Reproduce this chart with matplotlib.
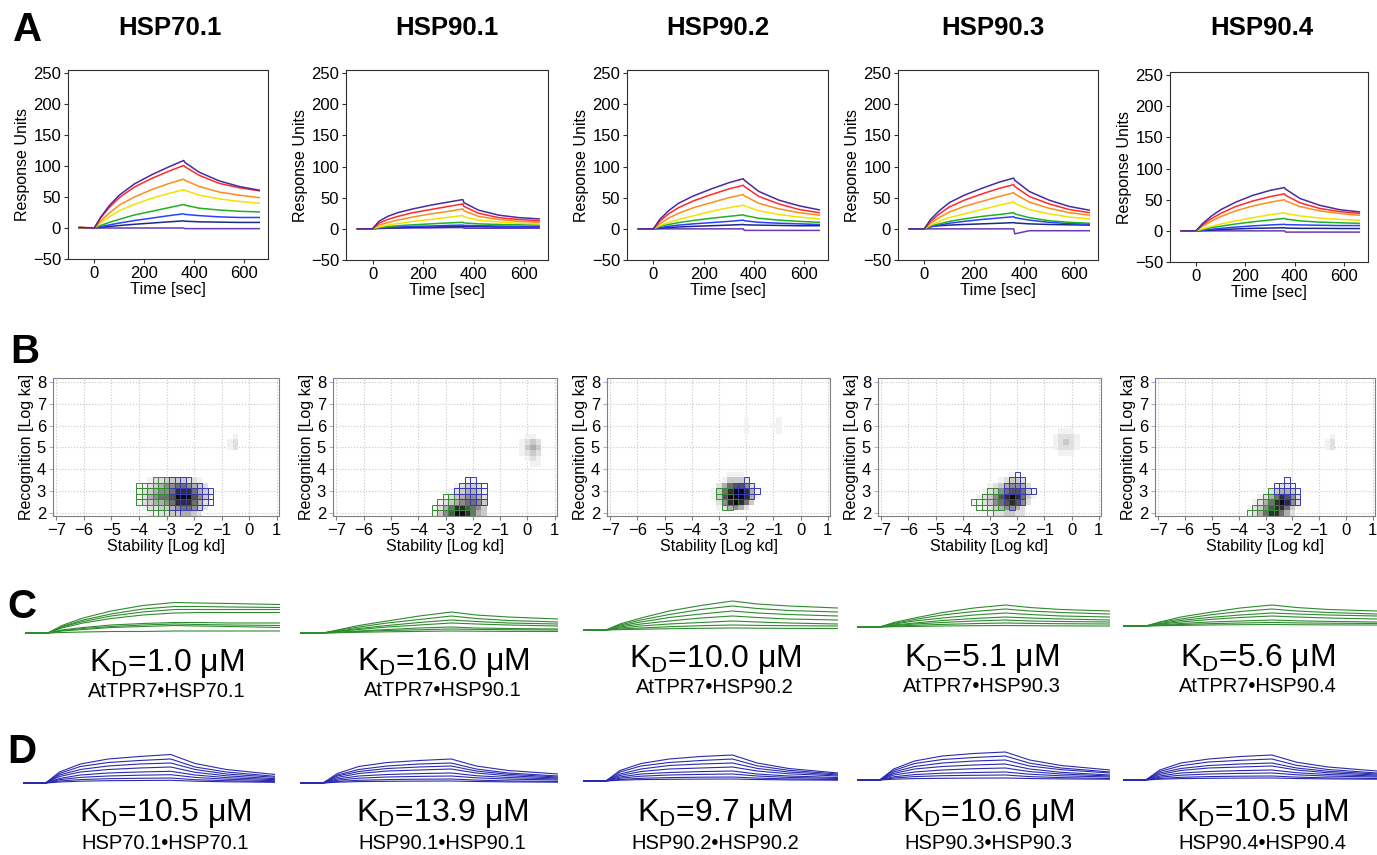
import numpy as np
import matplotlib.pyplot as plt
from matplotlib.patches import Rectangle

plt.rcParams['font.family'] = ['Liberation Sans', 'DejaVu Sans']
plt.rcParams['mathtext.default'] = 'regular'

W, H = 1377, 855

# ----------------------------
# Data
# ----------------------------
proteins = ['HSP70.1', 'HSP90.1', 'HSP90.2', 'HSP90.3', 'HSP90.4']

# A: sensorgrams (top curve first), sampled at t_a
t_a = [-60, 0, 25, 60, 100, 160, 230, 300, 358, 362, 420, 500, 580, 660]
a_colors = ['#4b2a9e', '#ff2a2a', '#ff8c1a', '#f2e200', '#22b022', '#2840ff', '#1a2a8a', '#6a3ab0']

ru_hsp70_1 = [
    [1, 0, 17, 36, 53, 71, 86, 99, 109, 106, 90, 76, 67, 61],
    [1, 0, 16, 33, 49, 66, 80, 92, 101, 99, 85, 72, 65, 60],
    [1, 0, 11, 24, 37, 50, 62, 72, 79, 77, 67, 58, 53, 49],
    [1, 0, 8, 18, 28, 38, 48, 56, 62, 61, 53, 47, 43, 40],
    [0, 0, 4, 9, 14, 21, 27, 33, 38, 37, 32, 29, 27, 26],
    [0, 0, 2, 5, 8, 12, 16, 20, 23, 22, 20, 18, 17, 17],
    [0, 0, 1, 2.5, 4, 6, 8, 10, 11.5, 11, 10, 9.5, 9, 9],
    [0.5, 0, 0, 0, 0, 0, 0, 0, 0, -1, -1, -1, -1, -1],
]
ru_hsp90_1 = [
    [0, 0, 12, 20, 26, 32, 38, 43, 47, 42, 30, 22, 18, 16],
    [0, 0, 9, 15, 20, 26, 31, 36, 40, 36, 25, 18, 15, 13],
    [0, 0, 6, 10, 14, 19, 24, 28, 32, 29, 20, 15, 12, 10.5],
    [0, 0, 3, 6, 8.5, 12, 15, 18.5, 21.5, 19.5, 14, 11, 9, 8],
    [0, 0, 2, 3.5, 5, 6.5, 8, 9.5, 10.5, 9.5, 8, 7, 6.5, 6],
    [0, 0, 1.5, 2.5, 3, 4, 4.5, 5.5, 6, 5.5, 5, 4.5, 4, 4],
    [0, 0, 1, 1.5, 2, 2.5, 3, 3.5, 4, 3.5, 3.5, 3, 3, 3],
    [0, 0, 0.5, 1, 1, 1.5, 1.5, 2, 2, 1, 1, 1, 1, 1],
]
ru_hsp90_2 = [
    [0, 0, 15, 29, 41, 53, 64, 74, 80.5, 78, 60, 46, 37, 30.5],
    [0, 0, 12, 24, 34, 45, 55, 64, 70, 68, 52, 40, 31, 26],
    [0, 0, 8, 17, 25, 34, 42, 50, 55, 53, 41, 32, 26, 22],
    [0, 0, 5, 10, 15, 21, 28, 34, 38, 37, 29, 23, 19, 16],
    [0, 0, 4, 7, 10, 13.5, 17, 20, 22.5, 21.5, 17, 14, 12, 10.5],
    [0, 0, 2, 4, 6, 8, 10, 12, 14, 13, 10.5, 9, 8, 7],
    [0, 0, 1, 2, 3, 4, 5, 6, 7, 6.5, 6, 5.5, 5, 5],
    [0, 0, 0, 0, 0, 0, 0, 0, 0, -2.5, -2.5, -2.5, -2.5, -2.5],
]
ru_hsp90_3 = [
    [0, 0, 15, 29, 42, 54, 65, 75, 81.5, 78, 60, 46, 36, 30],
    [0, 0, 12, 24, 35, 46, 56, 65, 71, 68, 52, 40, 31, 26],
    [0, 0, 9, 18, 27, 36, 44, 52, 58, 56, 43, 33, 26, 22],
    [0, 0, 6, 12, 18, 24, 31, 38, 43, 41, 31, 24, 19, 16],
    [0, 0, 5, 8, 12, 16, 20, 23, 26, 24, 18, 13, 10.5, 9],
    [0, 0, 3, 6, 9, 12, 15, 17.5, 19.5, 18, 14, 10.5, 8.5, 7.5],
    [0, 0, 4, 5, 6, 7, 8, 9, 10, 9.5, 8, 7, 6.5, 6],
    [0, 0, 0, 0, 0, 0, 0, 0, 0, -8, -3, -3, -3, -3],
]
ru_hsp90_4 = [
    [0, 0, 11, 23, 34, 46, 57, 65, 69.5, 67, 52, 41, 34, 30.5],
    [0, 0, 9, 19, 28, 39, 48, 55, 59.5, 57, 45, 36, 31, 28],
    [0, 0, 7, 15, 23, 32, 40, 46, 50, 48, 39, 32, 28, 25],
    [0, 0, 3, 7, 11, 16, 21, 26, 29, 28, 24, 20.5, 18.5, 17],
    [0, 0, 2, 5, 7.5, 11, 14.5, 17.5, 20, 19, 16, 14, 13, 12],
    [0, 0, 1, 2.5, 4, 6, 8, 9.5, 10.5, 10, 9.5, 9, 8.5, 8.5],
    [0, 0, 0.5, 1, 2, 3, 4, 4.5, 5, 4.5, 4, 4, 3.7, 3.7],
    [0, 0, 0, 0, 0, 0, 0, 0, 0, -2, -2, -2, -2, -2],
]
ru_all = [ru_hsp70_1, ru_hsp90_1, ru_hsp90_2, ru_hsp90_3, ru_hsp90_4]

# B: interaction maps (rows top -> bottom, '.' = empty, 1..9 = density)
heat_hsp70_1 = ["..1223333221..", ".123455665432.", "12345568886431", "12456679997531",
                "1234456888642.", ".122334566532.", "..1122334432.."]
box_hsp70_1 = ["...gggbbbb....", "ggggggbbbbbb..", "ggggggbbbbbbbb", "ggggggbbbbbbbb",
               "ggggggbbbbbbbb", "..ggggbbbbbb..", "...gggbb......"]
heat_hsp90_1 = ["......11..", "....12332.", "...1234431", "..12345542",
                ".123456653", "1246887653", "1357998643"]
box_hsp90_1 = ["......bb..", ".....bbbbb", "....bbbbbb", "..gggbbbbb",
               ".ggggggbbb", "ggggggg...", "ggggggg..."]
heat_hsp90_2 = ["...111...", "..13332..", ".2467752.", "136899841",
                "137999841", ".2589863.", ".124542.."]
box_hsp90_2 = [".........", "......b..", ".....bbb.", ".gggbbbbb",
               ".ggggbbb.", "..ggg....", "..gg....."]
heat_hsp90_3 = [".......11...", ".....12332..", "...12345542.", "..1235677631",
                ".12357898631", "11235678752.", "..12345542..", "...1223322.."]
box_hsp90_3 = ["........b...", ".......bbb..", "......bbbb..", "...gg.bbbbbb",
               "..ggggbbbb..", "ggggggbbbb..", ".ggggg.b....", "...g........"]
heat_hsp90_4 = [".......1..", ".....1221.", "...1234431", "..12468752",
                ".124689852", "1235788631", "124688642."]
box_hsp90_4 = [".......b..", ".....bbbb.", "....gbbbbb", "...gggbbbb",
               "..ggggbbbb", ".ggggg....", "ggggg....."]
heat_all = [heat_hsp70_1, heat_hsp90_1, heat_hsp90_2, heat_hsp90_3, heat_hsp90_4]
box_all = [box_hsp70_1, box_hsp90_1, box_hsp90_2, box_hsp90_3, box_hsp90_4]
heat_origin = [(-4.1, 1.875), (-3.5, 1.875), (-3.3, 2.125), (-3.7, 1.875), (-3.7, 1.875)]

# minor populations: (x0, y0, rows)
spots_all = [
    [(-0.8, 4.875, [".1", "12", "12"])],
    [(-0.3, 4.125, [".11.", "1232", "1343", "1232", ".121", "..11"])],
    [(-2.1, 5.625, ["1", "1", "1"]), (-1.1, 5.625, [".1", "11", ".1"])],
    [(-0.7, 4.625, [".111.", "12221", "12321", "12221", ".111."])],
    [(-0.8, 4.875, [".1", "12", "12"])],
]
CELL_W, CELL_H = 0.2, 0.25

# C / D: fitted thumbnails, sampled at t_th
t_th = [-65, 0, 40, 100, 180, 270, 360, 430, 520, 660]
c_hsp70_1 = [[0, 0, 7.5, 15, 22, 27.5, 30.5, 30, 29.5, 28.5], [0, 0, 6.5, 13, 19, 24, 26.5, 26.5, 26, 25.5],
             [0, 0, 6, 11.5, 17, 21, 23.5, 23.5, 23.5, 23.5], [0, 0, 5, 10, 14.5, 18, 20, 20.5, 20.5, 20.5],
             [0, 0, 3, 5.5, 8, 9.5, 10.5, 10.5, 10, 10], [0, 0, 2.5, 4.5, 6.5, 8, 9, 8.5, 8, 7.5],
             [0, 0, 2, 3.5, 5.5, 6.5, 7.5, 7, 6.5, 5.5], [0, 0, 0.5, 1, 1.5, 1.5, 2, 2, 2, 2]]
c_hsp90_1 = [[0, 0, 3, 7.5, 12, 17, 21, 18, 16, 14], [0, 0, 2.5, 6, 10, 13.5, 17, 14.5, 12.5, 11],
             [0, 0, 2, 4.5, 7.5, 10.5, 13, 11.5, 10, 9], [0, 0, 1.5, 3.5, 6, 8, 10, 9, 8, 7],
             [0, 0, 1, 2, 3.5, 5, 6, 5, 4.5, 4], [0, 0, 0.5, 1.5, 2.5, 3.2, 4, 3.6, 3.3, 3],
             [0, 0, 0.3, 0.7, 1.2, 1.6, 2, 1.8, 1.6, 1.5]]
c_hsp90_2 = [[0, 0, 6, 12, 19, 24.5, 29, 26, 24, 22], [0, 0, 5, 10, 15.5, 20.5, 24, 21.5, 19.5, 18],
             [0, 0, 4, 8, 12.5, 16, 19, 17, 15.5, 14], [0, 0, 3, 6, 9, 12, 14, 12.5, 11, 10],
             [0, 0, 2, 4, 6, 7.5, 9, 8, 7, 6], [0, 0, 1, 2, 3.3, 4.3, 5, 4.6, 4.3, 4],
             [0, 0, 0.4, 0.8, 1.3, 1.7, 2, 1.8, 1.6, 1.5]]
c_hsp90_3 = [[0, 0, 4.5, 9, 14.5, 19, 22, 19.5, 17.5, 16], [0, 0, 3.5, 7.5, 12, 15.5, 18, 16, 14.5, 13],
             [0, 0, 3, 6, 9, 12, 14, 12.5, 11, 10], [0, 0, 2, 4, 6.5, 8.5, 10, 9, 8, 7],
             [0, 0, 1.5, 3, 4.5, 6, 7, 6, 5.5, 5], [0, 0, 0.8, 1.7, 2.6, 3.4, 4, 3.6, 3.3, 3],
             [0, 0, 0.3, 0.6, 1, 1.3, 1.5, 1.3, 1.1, 1]]
c_hsp90_4 = [[0, 0, 4, 9, 13.5, 18, 21, 18.5, 16.5, 15], [0, 0, 3.5, 7, 11, 14.5, 17, 15, 13.5, 12],
             [0, 0, 2.5, 5.5, 8.5, 11, 13, 12, 11, 10], [0, 0, 2, 4, 6.5, 8.5, 10, 9, 8, 7],
             [0, 0, 1.2, 2.5, 4, 5, 6, 5.2, 4.6, 4], [0, 0, 0.7, 1.5, 2.3, 3, 3.5, 3.1, 2.8, 2.5],
             [0, 0, 0.3, 0.6, 1, 1.3, 1.5, 1.3, 1.1, 1]]
d_hsp70_1 = [[0, 0, 11, 19, 24, 26.5, 28.5, 19.5, 13.5, 8.5], [0, 0, 9.5, 16.5, 20.5, 22.5, 24, 16, 11, 6.7],
             [0, 0, 8, 13.5, 17, 19, 20, 13.5, 9, 5.7], [0, 0, 6.5, 11, 13.5, 15, 16, 10.7, 7.2, 4.3],
             [0, 0, 4.5, 8, 10, 11, 11.7, 8, 5.4, 3.3], [0, 0, 3.3, 5.6, 7, 7.8, 8.3, 5.6, 3.8, 2.3],
             [0, 0, 2, 3.4, 4.3, 4.7, 5, 3.3, 2.3, 1.3], [0, 0, 1, 1.8, 2.3, 2.5, 2.7, 1.8, 1.2, 0.7]]
d_hsp90_1 = [[0, 0, 9.5, 16.5, 20.5, 22.5, 24, 17, 12.5, 9], [0, 0, 8, 13.5, 17, 19, 20, 14, 10, 7],
             [0, 0, 7, 11.5, 14.5, 16, 17, 12, 8.7, 6], [0, 0, 5.5, 9.5, 12, 13, 14, 10, 7.2, 5],
             [0, 0, 4, 7, 8.5, 9.4, 10, 7.3, 5.5, 4], [0, 0, 2.8, 4.8, 6, 6.6, 7, 5.2, 3.9, 3],
             [0, 0, 1.6, 2.7, 3.4, 3.8, 4, 2.9, 2.1, 1.5], [0, 0, 0.8, 1.4, 1.7, 1.9, 2, 1.5, 1.1, 0.8]]
d_hsp90_2 = [[0, 0, 10.5, 17.5, 22, 24.5, 26, 18, 12.5, 8], [0, 0, 9, 15, 18.5, 20.5, 22, 15.2, 10.7, 7],
             [0, 0, 7, 12, 15.5, 17, 18, 12.6, 9, 6], [0, 0, 5.5, 9.5, 12, 13, 14, 10, 7.2, 5],
             [0, 0, 4, 7, 8.5, 9.4, 10, 7, 5, 3.5], [0, 0, 2.8, 4.8, 6, 6.6, 7, 5, 3.6, 2.5],
             [0, 0, 1.6, 2.7, 3.4, 3.8, 4, 2.9, 2.1, 1.5], [0, 0, 0.8, 1.4, 1.7, 1.9, 2, 1.5, 1.1, 0.8]]
d_hsp90_3 = [[0, 0, 11, 19, 24, 26.5, 28, 20, 14.5, 10], [0, 0, 9.5, 16.5, 20.5, 22.5, 24, 16.8, 12, 8],
             [0, 0, 8, 13.5, 17, 19, 20, 14, 10.3, 7], [0, 0, 6.5, 11, 13.5, 15, 16, 11, 7.7, 5],
             [0, 0, 5, 8, 10, 11.3, 12, 8.4, 6, 4], [0, 0, 3.2, 5.4, 6.8, 7.5, 8, 5.8, 4.2, 3],
             [0, 0, 2, 3.4, 4.3, 4.7, 5, 3.4, 2.4, 1.5], [0, 0, 0.8, 1.4, 1.7, 1.9, 2, 1.5, 1.1, 0.8]]
d_hsp90_4 = [[0, 0, 10, 17, 21, 23.5, 25, 17.8, 13, 9], [0, 0, 8.5, 14.3, 18, 19.7, 21, 14.7, 10.5, 7],
             [0, 0, 7, 11.5, 14.5, 16, 17, 12, 8.7, 6], [0, 0, 5.5, 9.5, 12, 13, 14, 10, 7.2, 5],
             [0, 0, 4, 7, 8.5, 9.4, 10, 7.3, 5.5, 4], [0, 0, 2.8, 4.8, 6, 6.6, 7, 5.2, 3.9, 3],
             [0, 0, 1.6, 2.7, 3.4, 3.8, 4, 2.9, 2.1, 1.5], [0, 0, 0.8, 1.4, 1.7, 1.9, 2, 1.5, 1.1, 0.8]]
c_all = [c_hsp70_1, c_hsp90_1, c_hsp90_2, c_hsp90_3, c_hsp90_4]
d_all = [d_hsp70_1, d_hsp90_1, d_hsp90_2, d_hsp90_3, d_hsp90_4]

kd_c = ['1.0', '16.0', '10.0', '5.1', '5.6']
pair_c = ['AtTPR7•HSP70.1', 'AtTPR7•HSP90.1', 'AtTPR7•HSP90.2', 'AtTPR7•HSP90.3', 'AtTPR7•HSP90.4']
kd_d = ['10.5', '13.9', '9.7', '10.6', '10.5']
pair_d = ['HSP70.1•HSP70.1', 'HSP90.1•HSP90.1', 'HSP90.2•HSP90.2', 'HSP90.3•HSP90.3', 'HSP90.4•HSP90.4']

# ----------------------------
# Layout (pixel boxes: left, top, right, bottom)
# ----------------------------
a_boxes = [(68, 70, 268, 259), (346, 70, 548, 260), (627, 70, 828, 260),
           (898, 70, 1098, 260), (1170, 72, 1368, 262)]
b_boxes = [(53, 378, 279, 516), (333, 378, 557, 516), (607, 378, 830, 516),
           (878, 378, 1101, 516), (1155, 378, 1375, 516)]
c_spans = [(25, 280, 633), (300, 558, 633), (583, 838, 630), (857, 1110, 627), (1123, 1377, 626)]
d_spans = [(23, 275, 783), (300, 558, 783), (583, 838, 781), (857, 1110, 780), (1123, 1377, 780)]
title_x = [170, 447, 718, 993, 1262]
c_text = [(167, 663, 691), (443, 662, 690), (715, 659, 687), (982, 658, 686), (1258, 658, 686)]
d_text = [(165, 813, 843), (442, 813, 843), (715, 813, 843), (988, 813, 843), (1262, 813, 843)]

fig = plt.figure(figsize=(W / 100, H / 100), dpi=100)


def px_axes(l, t, r, b):
    return fig.add_axes([l / W, 1 - b / H, (r - l) / W, (b - t) / H])


def fig_text(x, y, s, **kw):
    fig.text(x / W, 1 - y / H, s, ha='center', va='center', **kw)


def draw_cells(ax, x0, y0, rows, box=None):
    z = np.array([[0 if ch == '.' else int(ch) for ch in r] for r in rows[::-1]], float)
    ny, nx = z.shape
    xe = x0 + CELL_W * np.arange(nx + 1)
    ye = y0 + CELL_H * np.arange(ny + 1)
    ax.pcolormesh(xe, ye, np.ma.masked_equal(z, 0), cmap='Greys', vmin=0, vmax=9.4, zorder=2)
    if box is None:
        return
    for j, r in enumerate(box[::-1]):
        for i, ch in enumerate(r):
            if ch in 'gb':
                col = '#3a8a3a' if ch == 'g' else '#3a3ab4'
                ax.add_patch(Rectangle((x0 + i * CELL_W, y0 + j * CELL_H), CELL_W, CELL_H,
                                       fill=False, edgecolor=col, lw=0.7, zorder=3))


# panel letters and titles
for lab, (x, y) in zip('ABCD', [(28, 30), (25, 352), (22, 607), (22, 752)]):
    fig_text(x, y, lab, fontsize=29, fontweight='bold')
for name, x in zip(proteins, title_x):
    fig_text(x, 28, name, fontsize=18.5, fontweight='bold')

# ----------------------------
# A: sensorgrams
# ----------------------------
for k in range(5):
    ax = px_axes(*a_boxes[k])
    for curve, col in list(zip(ru_all[k], a_colors))[::-1]:
        ax.plot(t_a, curve, color=col, lw=1.1)
    ax.set_xlim(-105, 695)
    ax.set_ylim(-50, 255)
    ax.set_xticks([0, 200, 400, 600])
    ax.set_yticks(np.arange(-50, 251, 50))
    ax.tick_params(labelsize=12, length=3, color='#303030', pad=2)
    for s in ax.spines.values():
        s.set_color('#303030')
    ax.set_xlabel('Time [sec]', fontsize=12, labelpad=1)
    ax.set_ylabel('Response Units', fontsize=11.5, labelpad=2)

# ----------------------------
# B: interaction maps
# ----------------------------
for k in range(5):
    ax = px_axes(*b_boxes[k])
    ax.set_axisbelow(True)
    ax.grid(True, linestyle=':', color='#c8c8c8', lw=0.8)
    x0, y0 = heat_origin[k]
    draw_cells(ax, x0, y0, heat_all[k], box_all[k])
    for sx, sy, rows in spots_all[k]:
        draw_cells(ax, sx, sy, rows)
    ax.set_xlim(-7.12, 1.08)
    ax.set_ylim(1.86, 8.18)
    ax.set_xticks(range(-7, 2))
    ax.set_yticks(range(2, 9))
    ax.tick_params(labelsize=12, length=3, pad=2, color='#808080')
    ax.tick_params(axis='y', color='#9db4e0')
    for s in ax.spines.values():
        s.set_color('#808080')
    ax.set_xlabel('Stability [Log kd]', fontsize=11.5, labelpad=1)
    ax.set_ylabel('Recognition [Log ka]', fontsize=11.5, labelpad=2)

# ----------------------------
# C / D: fitted thumbnails
# ----------------------------
for spans, curves_all, col in [(c_spans, c_all, '#2e8b2e'), (d_spans, d_all, '#2a2ab0')]:
    for k in range(5):
        x1, x2, base = spans[k]
        ax = px_axes(x1, base - 40, x2, base + 3)
        for curve in curves_all[k]:
            ax.plot(t_th, curve, color=col, lw=0.8)
        ax.set_xlim(-65, 660)
        ax.set_ylim(-3, 40)
        ax.axis('off')

for k in range(5):
    x, y1, y2 = c_text[k]
    fig_text(x, y1, r'$K_D$=' + kd_c[k] + ' μM', fontsize=23)
    fig_text(x, y2, pair_c[k], fontsize=14.5)
    x, y1, y2 = d_text[k]
    fig_text(x, y1, r'$K_D$=' + kd_d[k] + ' μM', fontsize=23)
    fig_text(x, y2, pair_d[k], fontsize=14.5)

fig.savefig('out.png', dpi=100)
